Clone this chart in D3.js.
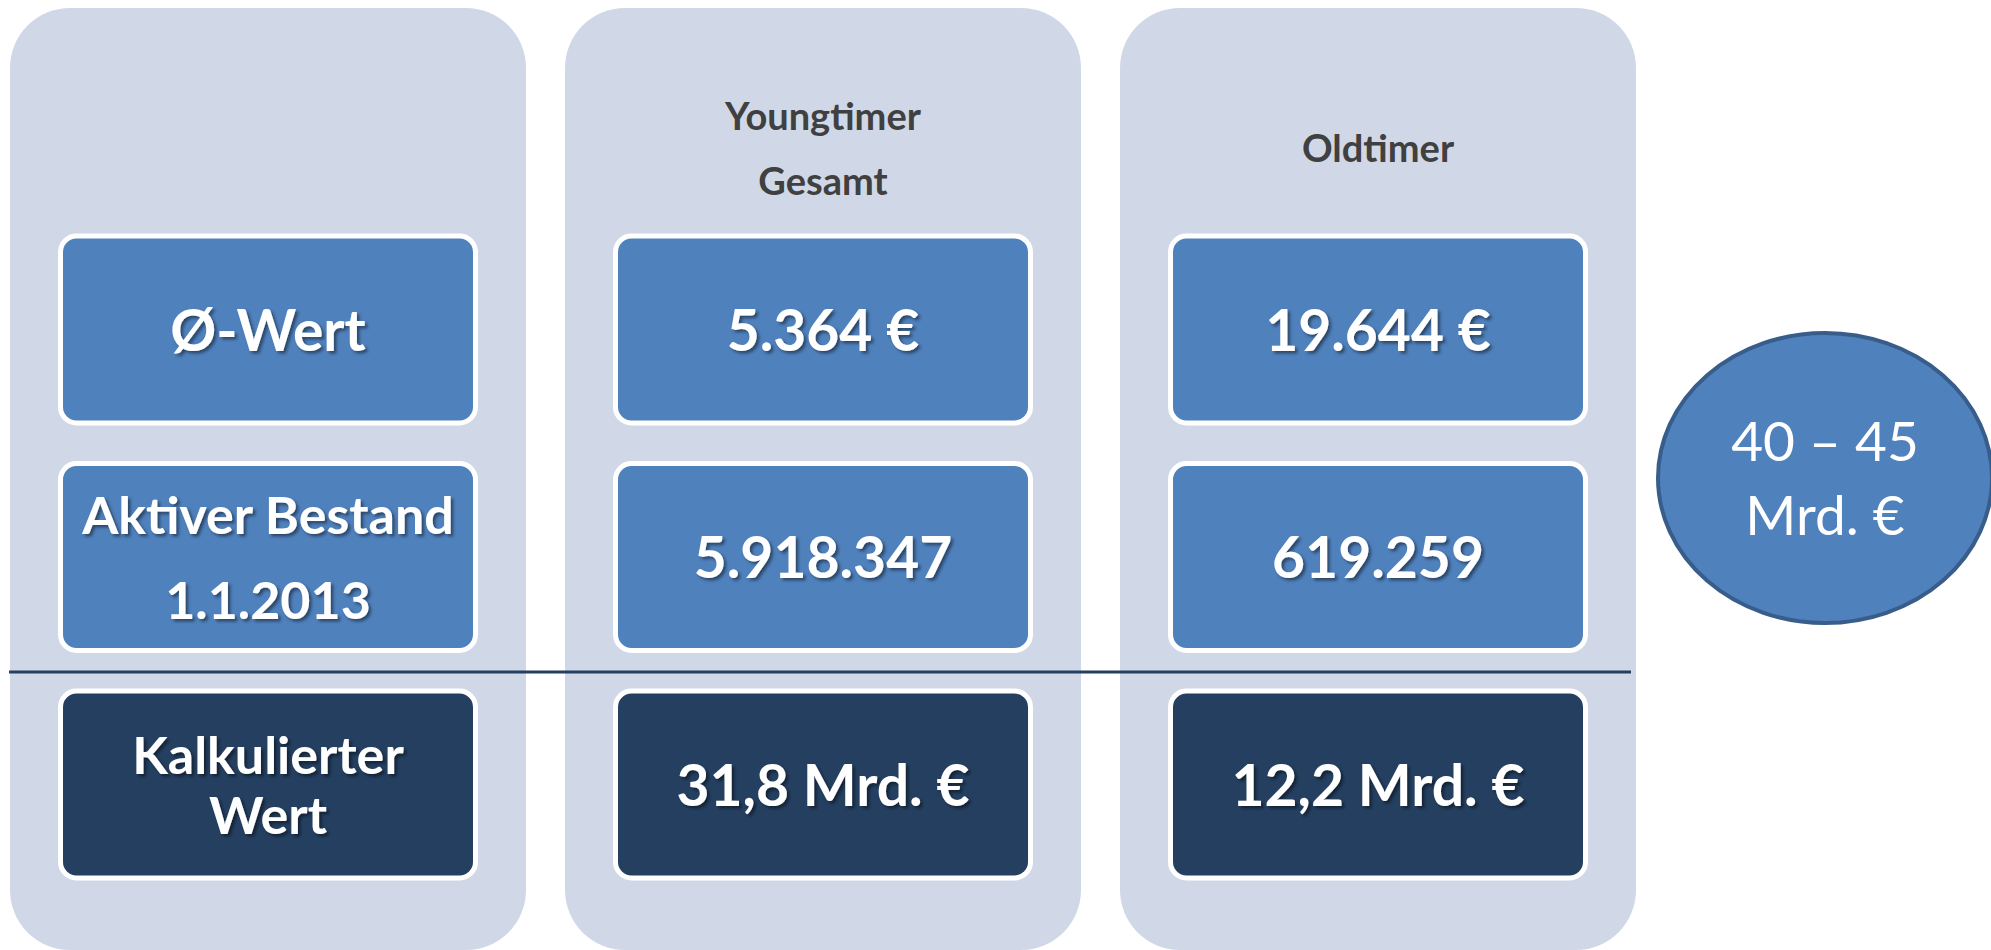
<!DOCTYPE html>
<html lang="en">
<head>
	<meta charset="utf-8">
	<title>Youngtimer / Oldtimer</title>
	<script type="text/javascript" src="https://cdn.jsdelivr.net/npm/d3@7/dist/d3.min.js"></script>
</head>
<style type="text/css">
	body{
		margin: 0;
		background-color: white;
	}
	svg{
		display: block;
	}
</style>
<body>

<div id="vizContainer"></div>

<script type="text/javascript">
// -----------PART 1: THE DATA-----------
var columnHeaders = [[], ["Youngtimer", "Gesamt"], ["Oldtimer"]];
var rowLabels = [["Ø-Wert"], ["Aktiver Bestand", "1.1.2013"], ["Kalkulierter", "Wert"]];
var youngtimerValues = [["5.364 €"], ["5.918.347"], ["31,8 Mrd. €"]];
var oldtimerValues = [["19.644 €"], ["619.259"], ["12,2 Mrd. €"]];
var totalLabel = ["40 – 45", "Mrd. €"];

// one list of cells per column
var columns = [rowLabels, youngtimerValues, oldtimerValues];

// -----------PART 2: SETTING UP THE CANVAS-----------
var width = 1991;
var height = 950;

var svgCanvas = d3.select("#vizContainer").append("svg")
	.attr("width", width)
	.attr("height", height);

var font = "Lato, 'Open Sans', sans-serif";

// soft shadow behind the white box texts
var shadow = svgCanvas.append("defs").append("filter")
	.attr("id", "txtShadow")
	.attr("x", "-10%").attr("y", "-20%")
	.attr("width", "130%").attr("height", "150%");
shadow.append("feDropShadow")
	.attr("dx", 2.5)
	.attr("dy", 2.5)
	.attr("stdDeviation", 1.5)
	.attr("flood-color", "#000")
	.attr("flood-opacity", 0.45);

var xScale = d3.scaleBand()
	.domain(d3.range(columns.length))
	.range([10, 1636])
	.paddingInner(39 / 555);

var yScale = d3.scaleBand()
	.domain(d3.range(rowLabels.length))
	.range([236, 878])
	.paddingInner(40.5 / 227.5);

var boxW = 415;
var rowLineGap = [0, 85, 60]; // spacing between text lines per row

// the long row labels are set a bit smaller so they fit the box
function cellFont(col, row){
	return (col == 0 && row > 0) ? 52 : 57;
}

// -----------PART 3: DRAWING ON THE CANVAS-----------
// big light panels
svgCanvas.selectAll(".panel")
	.data(columns)
	.enter()
	.append("rect")
	.attr("class", "panel")
	.attr("x", function(d, i){ return xScale(i); })
	.attr("y", 8)
	.attr("width", xScale.bandwidth())
	.attr("height", 950 - 8)
	.attr("rx", 60)
	.attr("fill", "#d0d8e8");

// column headers
var headerG = svgCanvas.selectAll(".header")
	.data(columnHeaders)
	.enter()
	.append("g")
	.attr("class", "header");

headerG.selectAll("text")
	.data(function(d, i){
		return d.map(function(t, k){ return {t: t, col: i, k: k, n: d.length}; });
	})
	.enter()
	.append("text")
	.attr("x", function(d){ return xScale(d.col) + xScale.bandwidth() / 2; })
	.attr("y", function(d){ return 149 + 13 + (d.k - (d.n - 1) / 2) * 65; })
	.attr("text-anchor", "middle")
	.attr("font-family", font)
	.attr("font-weight", "bold")
	.attr("font-size", 38)
	.attr("fill", "#404040")
	.text(function(d){ return d.t; });

// separator line above the calculated row
svgCanvas.append("line")
	.attr("x1", 9)
	.attr("x2", 1631)
	.attr("y1", 672)
	.attr("y2", 672)
	.attr("stroke", "#243f60")
	.attr("stroke-width", 3);

// cells
var colG = svgCanvas.selectAll(".col")
	.data(columns)
	.enter()
	.append("g")
	.attr("class", "col")
	.attr("transform", function(d, i){
		return "translate(" + (xScale(i) + (xScale.bandwidth() - boxW) / 2) + ",0)";
	});

var cellG = colG.selectAll(".cell")
	.data(function(d){ return d; })
	.enter()
	.append("g")
	.attr("class", "cell")
	.attr("transform", function(d, i){ return "translate(0," + yScale(i) + ")"; });

cellG.append("rect")
	.attr("width", boxW)
	.attr("height", yScale.bandwidth())
	.attr("rx", 16)
	.attr("fill", function(d, i){ return i == 2 ? "#243f60" : "#4f81bd"; })
	.attr("stroke", "white")
	.attr("stroke-width", 5);

colG.each(function(col, c){
	d3.select(this).selectAll(".cell").each(function(d, i){
		var g = d3.select(this);
		var cy = yScale.bandwidth() / 2;
		var gap = rowLineGap[i];
		var fs = cellFont(c, i);
		g.selectAll("text")
			.data(d)
			.enter()
			.append("text")
			.attr("x", boxW / 2)
			.attr("y", function(t, k){ return cy + fs * 0.37 + (k - (d.length - 1) / 2) * gap; })
			.attr("text-anchor", "middle")
			.attr("font-family", font)
			.attr("font-weight", "bold")
			.attr("font-size", fs)
			.attr("fill", "white")
			.attr("filter", "url(#txtShadow)")
			.text(function(t){ return t; });
	});
});

// total ellipse on the right
var ell = svgCanvas.append("g")
	.attr("transform", "translate(1825,478)");

ell.append("ellipse")
	.attr("rx", 167)
	.attr("ry", 145)
	.attr("fill", "#4f81bd")
	.attr("stroke", "#385d8a")
	.attr("stroke-width", 4);

ell.selectAll("text")
	.data(totalLabel)
	.enter()
	.append("text")
	.attr("x", 0)
	.attr("y", function(d, k){ return 20 + (k - 0.5) * 74; })
	.attr("text-anchor", "middle")
	.attr("font-family", font)
	.attr("font-size", 55)
	.attr("fill", "white")
	.text(function(d){ return d; });
</script>
</body>
</html>
